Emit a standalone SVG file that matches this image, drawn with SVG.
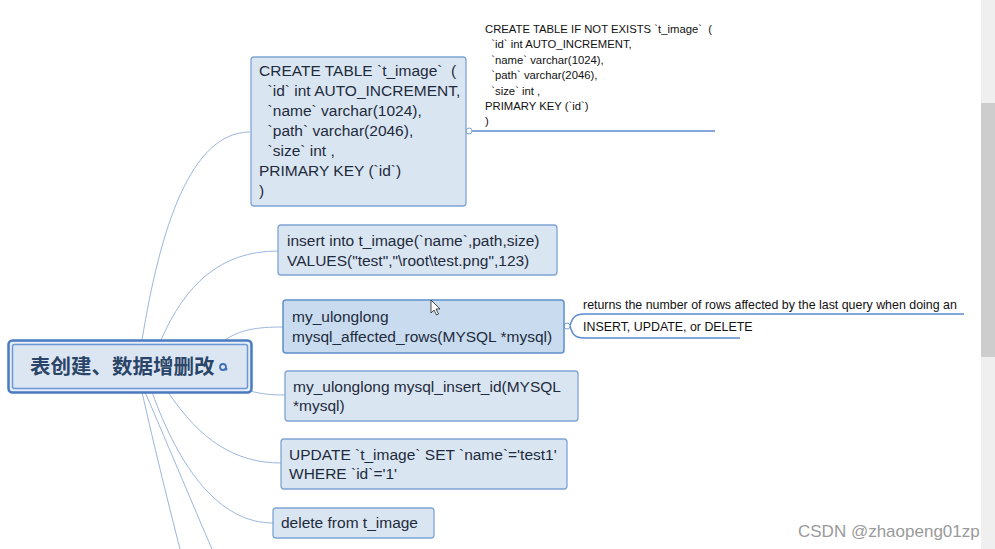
<svg xmlns="http://www.w3.org/2000/svg" width="995" height="549" viewBox="0 0 995 549">
<style>
.box{fill:#dae5f2;stroke:#7fa4d3;stroke-width:1.3}
.sel{fill:#c8dbef;stroke:#5f90cc;stroke-width:1.5}
.t{font-family:"Liberation Sans","Noto Sans",sans-serif;font-size:15.5px;fill:#1e2b3c;white-space:pre}
.n1{font-family:"Liberation Sans","Noto Sans",sans-serif;font-size:11.3px;fill:#111;white-space:pre}
.n{font-family:"Liberation Sans","Noto Sans",sans-serif;font-size:12.4px;fill:#111}
.c{fill:none;stroke:#9db6dc;stroke-width:1}
.u{fill:none;stroke:#5b8bd0;stroke-width:1.5}
.dot{fill:#fff;stroke:#7fa4d3;stroke-width:1}
</style>
<rect width="995" height="549" fill="#ffffff"/>
<g id="connectors">
<path class="c" d="M142,340 C160,230 190,132 250,132"/>
<path class="c" d="M161,340 C185,285 220,251 278,251"/>
<path class="c" d="M225,340 C240,330 255,327 283,327"/>
<path class="c" d="M250,391 C262,394 270,395 285,395"/>
<path class="c" d="M168,392 C200,440 235,463 281,463"/>
<path class="c" d="M152,392 C180,470 220,523 273,523"/>
<path class="c" d="M145,392 C170,450 195,510 212,549"/>
<path class="c" d="M142,392 C155,450 170,510 180,549"/>
<path class="u" d="M472,131 L715,131"/>
<circle class="dot" cx="469" cy="131" r="3"/>
<path class="u" d="M570,326 C572,318 575,314 584,314 L964,314"/>
<path class="u" d="M570,326 C572,334 575,338 584,338 L740,338"/>
<circle class="dot" cx="567" cy="326" r="3"/>
</g>
<g id="central">
<rect x="8.5" y="340.5" width="243" height="52" rx="4" fill="#e6edf7" stroke="#4a7bc0" stroke-width="2.5"/>
<rect x="12.5" y="344.5" width="235" height="44" rx="2" fill="#dce6f3" stroke="#6c98d4" stroke-width="1.5"/>
<text x="30" y="374" font-family="'Noto Sans CJK SC','Liberation Sans',sans-serif" font-size="20.5" font-weight="bold" fill="#2b4568">表创建、数据增删改</text>
<circle cx="223" cy="367" r="3" fill="none" stroke="#3f6fb5" stroke-width="1.8"/>
<circle cx="226" cy="369" r="1.5" fill="#3f6fb5"/>
</g>
<g id="node-create">
<rect class="box" x="251" y="57" width="215" height="149" rx="3"/>
<text class="t" x="259" y="76" xml:space="preserve">CREATE TABLE `t_image`  (</text>
<text class="t" x="259" y="96" xml:space="preserve">  `id` int AUTO_INCREMENT,</text>
<text class="t" x="259" y="116" xml:space="preserve">  `name` varchar(1024),</text>
<text class="t" x="259" y="136" xml:space="preserve">  `path` varchar(2046),</text>
<text class="t" x="259" y="156" xml:space="preserve">  `size` int ,</text>
<text class="t" x="259" y="176">PRIMARY KEY (`id`)</text>
<text class="t" x="259" y="196">)</text>
</g>
<g id="note-create">
<text class="n1" x="485" y="33" xml:space="preserve">CREATE TABLE IF NOT EXISTS `t_image`  (</text>
<text class="n1" x="485" y="48" xml:space="preserve">  `id` int AUTO_INCREMENT,</text>
<text class="n1" x="485" y="64" xml:space="preserve">  `name` varchar(1024),</text>
<text class="n1" x="485" y="79" xml:space="preserve">  `path` varchar(2046),</text>
<text class="n1" x="485" y="95" xml:space="preserve">  `size` int ,</text>
<text class="n1" x="485" y="110">PRIMARY KEY (`id`)</text>
<text class="n1" x="485" y="125">)</text>
</g>
<g id="node-insert">
<rect class="box" x="278" y="225" width="279" height="50" rx="3"/>
<text class="t" x="287" y="246">insert into t_image(`name`,path,size)</text>
<text class="t" x="287" y="266">VALUES("test","\root\test.png",123)</text>
</g>
<g id="node-affected">
<rect class="sel" x="283" y="300" width="281" height="53" rx="3"/>
<text class="t" x="292" y="322">my_ulonglong</text>
<text class="t" x="292" y="342">mysql_affected_rows(MYSQL *mysql)</text>
</g>
<g id="note-affected">
<text class="n" x="583" y="309">returns the number of rows affected by the last query when doing an</text>
<text class="n" x="583" y="331">INSERT, UPDATE, or DELETE</text>
</g>
<g id="node-insertid">
<rect class="box" x="285" y="371" width="293" height="50" rx="3"/>
<text class="t" x="293" y="392">my_ulonglong mysql_insert_id(MYSQL</text>
<text class="t" x="293" y="411">*mysql)</text>
</g>
<g id="node-update">
<rect class="box" x="281" y="439" width="286" height="50" rx="3"/>
<text class="t" x="289" y="460">UPDATE `t_image` SET `name`='test1'</text>
<text class="t" x="289" y="479">WHERE `id`='1'</text>
</g>
<g id="node-delete">
<rect class="box" x="273" y="508" width="161" height="30" rx="3"/>
<text class="t" x="281" y="528">delete from t_image</text>
</g>
<g id="cursor">
<path d="M431,300 L431,313 L434,310 L436.5,315 L438.5,314 L436,309 L440,309 Z" fill="#fff" stroke="#222" stroke-width="0.8"/>
</g>
<g id="watermark">
<text x="798" y="537" font-family="'Liberation Sans',sans-serif" font-size="17" fill="#9a9a9a">CSDN @zhaopeng01zp</text>
</g>
<g id="scrollbar">
<rect x="981" y="0" width="14" height="549" fill="#efefef"/>
<rect x="981" y="103" width="14" height="254" fill="#cdcdcd"/>
</g>
</svg>
